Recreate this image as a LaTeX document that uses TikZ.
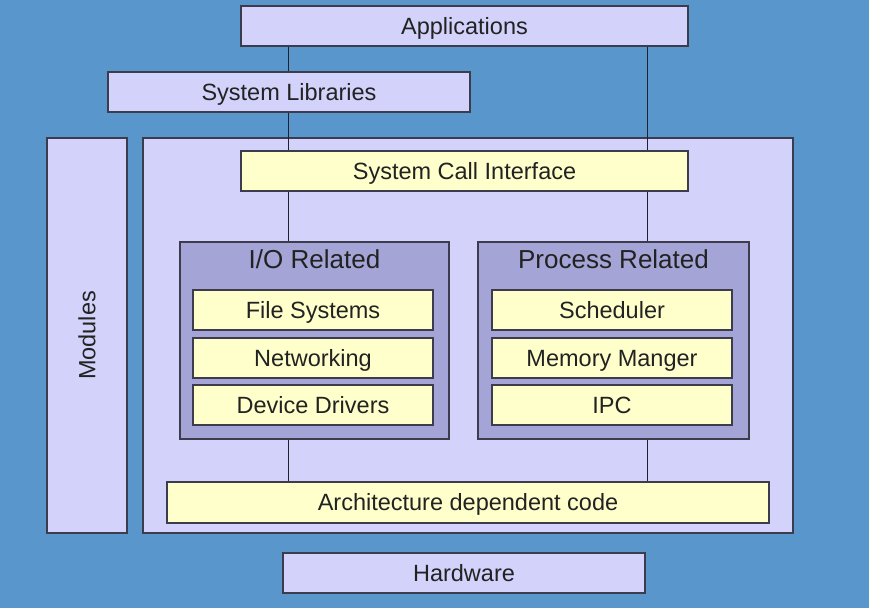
\documentclass[tikz,border=0pt]{standalone}
\usepackage{fontspec}
\setmainfont{Liberation Sans}
\begin{document}
\begin{tikzpicture}[x=1pt,y=-1pt,
  tx/.style={text=txt,font=\fontsize{23.5}{25}\selectfont,text height=16.8pt,text depth=0pt},
  bx/.style={draw=bord,line width=1.1pt,inner sep=0pt,tx},
  lav/.style={bx,fill=lav},
  yel/.style={bx,fill=yel},
  grp/.style={draw=bord,line width=1.1pt,fill=grpc},
  ttl/.style={text=txt,font=\fontsize{26}{28}\selectfont,text height=18.6pt,text depth=0pt,inner sep=0pt},
  conn/.style={draw=linec,line width=1pt}]
\definecolor{bg}{HTML}{5896CC}
\definecolor{lav}{HTML}{D3D2FA}
\definecolor{yel}{HTML}{FFFFCC}
\definecolor{grpc}{HTML}{A4A4D6}
\definecolor{bord}{HTML}{3C3C4C}
\definecolor{txt}{HTML}{222222}
\definecolor{linec}{HTML}{202030}
\fill[bg] (0,0) rectangle (869,608);
\useasboundingbox (0,0) rectangle (869,608);
% big boxes
\node[lav,minimum width=650pt,minimum height=395pt] (kern) at (468,335.5) {};
\node[lav,minimum width=80pt,minimum height=395pt] (mod) at (87,335.5) {};
\node[tx,inner sep=0pt,rotate=90] (modt) at (mod.center) {Modules};
% top boxes
\node[lav,minimum width=447pt,minimum height=40pt] (app) at (464.5,26) {Applications};
\node[lav,minimum width=362pt,minimum height=40pt] (sl) at (289,92) {System Libraries};
\node[yel,minimum width=447pt,minimum height=40pt] (sci) at (464.5,171) {System Call Interface};
% groups
\node[grp,minimum width=269pt,minimum height=197pt] (io) at (314.5,340.5) {};
\node[grp,minimum width=271pt,minimum height=197pt] (pr) at (613.5,340.5) {};
\node[ttl] (iot) at (314.5,259) {I/O Related};
\node[ttl] (prt) at (613.5,259) {Process Related};
% inner boxes
\node[yel,minimum width=240pt,minimum height=40pt] (fs) at (313,310) {File Systems};
\node[yel,minimum width=240pt,minimum height=40pt] (net) at (313,358) {Networking};
\node[yel,minimum width=240pt,minimum height=40pt] (dd) at (313,405) {Device Drivers};
\node[yel,minimum width=240pt,minimum height=40pt] (sch) at (612,310) {Scheduler};
\node[yel,minimum width=240pt,minimum height=40pt] (mm) at (612,358) {Memory Manger};
\node[yel,minimum width=240pt,minimum height=40pt] (ipc) at (612,405) {IPC};
% bottom
\node[yel,minimum width=602pt,minimum height=41pt] (arch) at (468,502.5) {Architecture dependent code};
\node[lav,minimum width=362pt,minimum height=40pt] (hw) at (464,573) {Hardware};
% connectors
\coordinate (lx) at (288,0);
\coordinate (rx) at (647,0);
\draw[conn] (app.south -| lx) -- (sl.north -| lx);
\draw[conn] (sl.south -| lx) -- (sci.north -| lx);
\draw[conn] (sci.south -| lx) -- (io.north -| lx);
\draw[conn] (io.south -| lx) -- (arch.north -| lx);
\draw[conn] (app.south -| rx) -- (sci.north -| rx);
\draw[conn] (sci.south -| rx) -- (pr.north -| rx);
\draw[conn] (pr.south -| rx) -- (arch.north -| rx);
\end{tikzpicture}
\end{document}
